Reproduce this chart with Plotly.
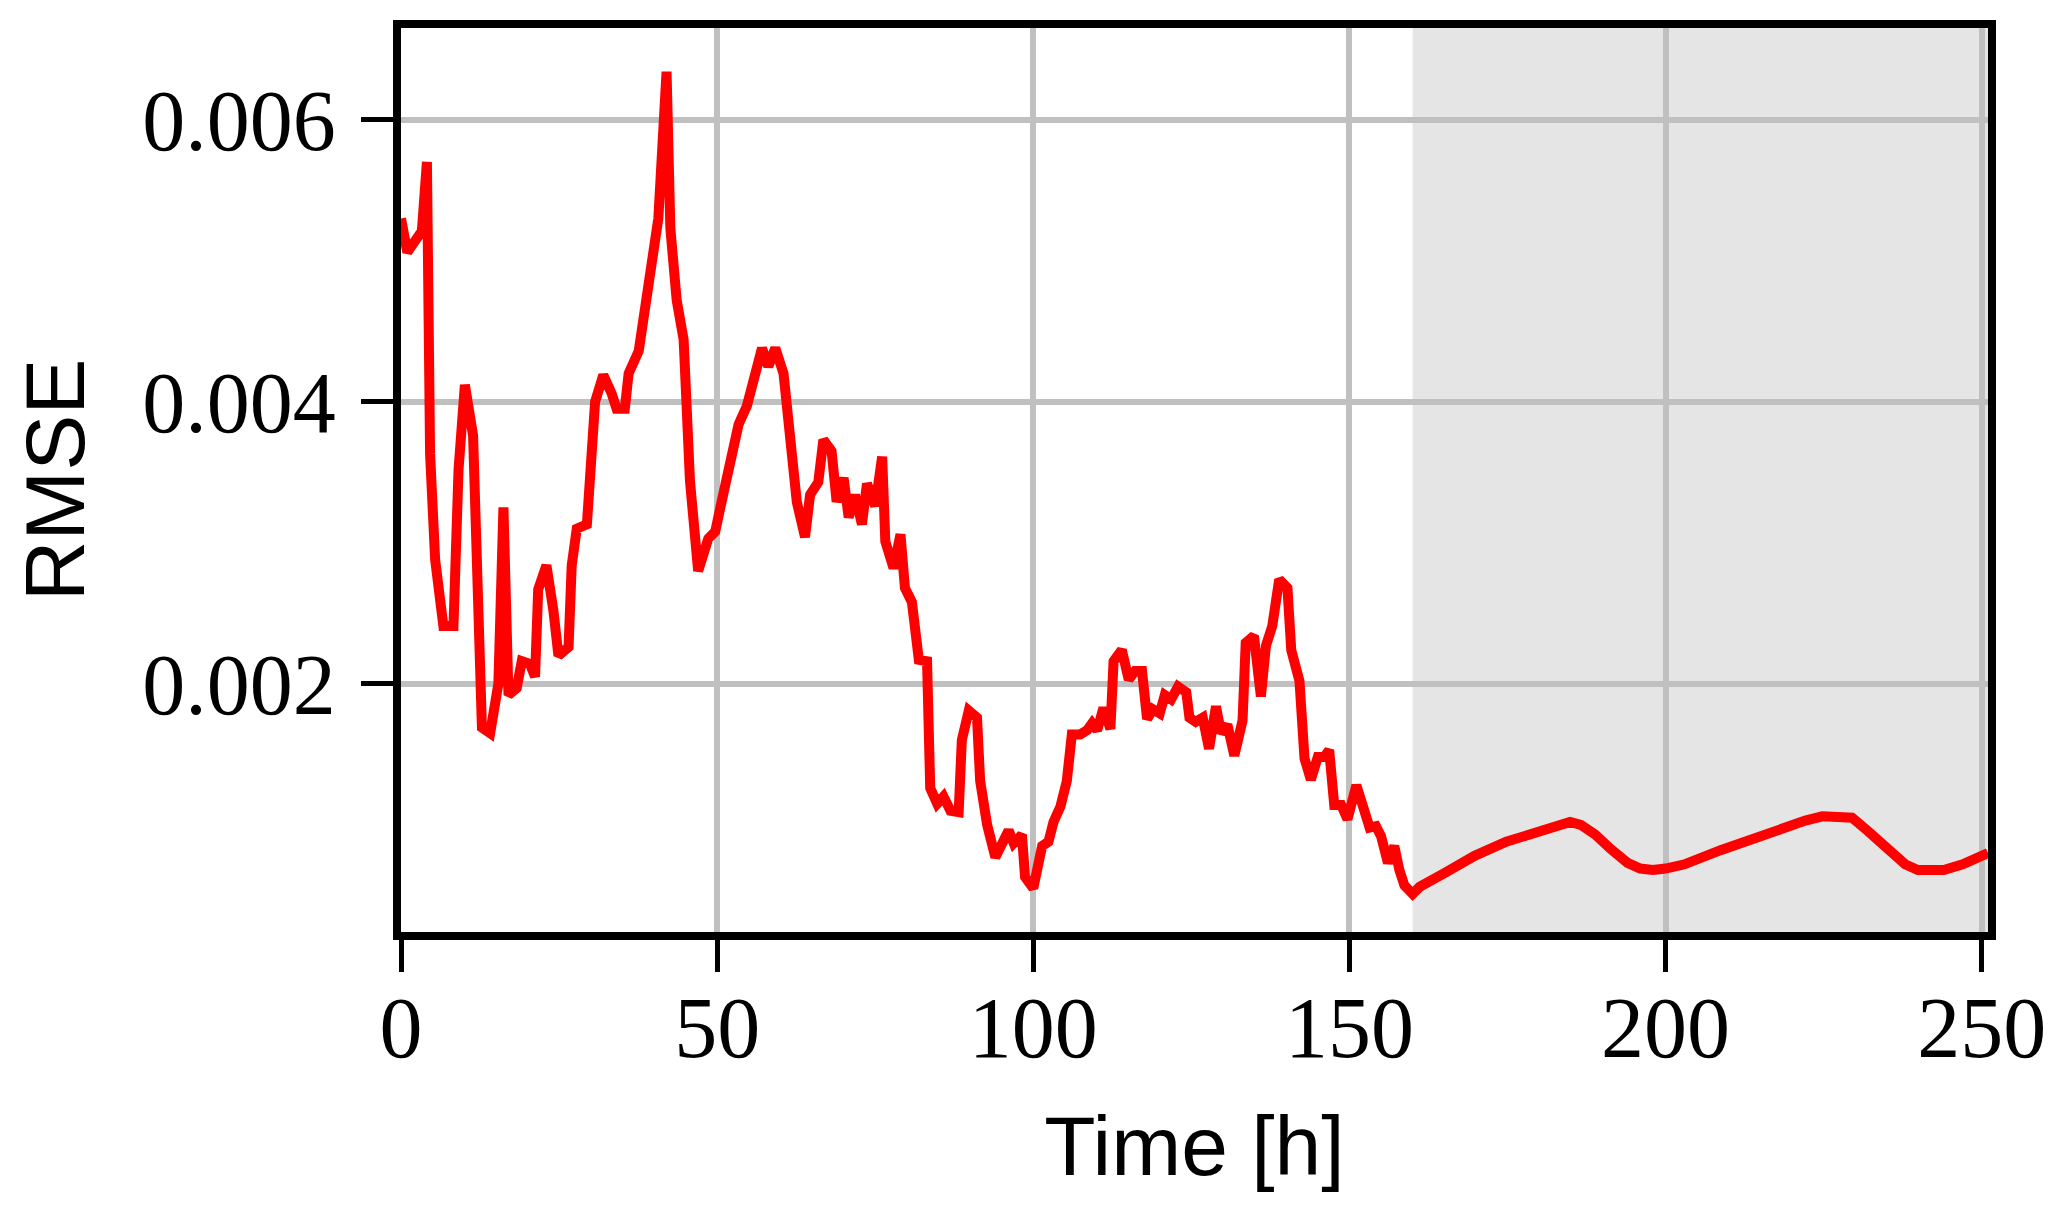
import plotly.graph_objects as go

# values
time_h = [
    0.0, 1.0, 3.3, 4.1, 4.6, 5.4, 6.7, 8.3, 9.1, 10.1, 11.4, 12.8, 14.1, 15.4, 16.2,
    17.0, 18.3, 19.1, 20.4, 21.2, 21.7, 23.0, 24.1, 24.9, 26.5, 27.0, 27.8, 29.4,
    30.7, 32.0, 33.3, 34.1, 35.4, 36.0, 37.6, 38.6, 39.7, 40.7, 42.0, 42.6, 43.6,
    44.7, 45.7, 47.0, 48.6, 49.7, 50.7, 51.8, 53.4, 54.7, 55.8, 57.1, 58.1, 59.2,
    60.5, 61.5, 62.6, 63.9, 64.7, 66.0, 66.8, 68.1, 68.9, 70.0, 70.8, 71.8, 72.9,
    73.7, 75.0, 76.1, 76.6, 77.9, 79.0, 79.7, 80.8, 81.9, 83.2, 83.7, 84.8, 85.8,
    86.9, 88.2, 88.7, 89.8, 91.1, 91.6, 92.7, 94.0, 95.0, 96.1, 96.9, 98.2, 98.7,
    100.0, 101.4, 102.4, 103.2, 104.3, 105.3, 106.1, 107.4, 108.5, 109.3, 110.1,
    111.1, 112.2, 112.7, 114.0, 115.1, 116.1, 117.2, 118.0, 118.9, 120.0, 120.8,
    121.8, 122.9, 124.2, 124.7, 125.7, 126.8, 127.8, 128.9, 129.7, 130.7, 131.8,
    133.1, 133.6, 134.9, 136.0, 136.8, 137.8, 138.9, 140.2, 140.8, 142.1, 142.9,
    143.9, 145.0, 146.0, 146.8, 147.6, 148.7, 149.7, 151.1, 152.4, 153.2, 154.2,
    155.0, 156.1, 157.1, 157.9, 158.7, 160.0,
    161.1, 165.1, 169.8, 174.8, 179.9, 182.9, 184.9, 186.6, 188.9, 191.3, 194.0,
    196.0, 198.0, 200.0, 203.0, 208.7, 215.8, 222.1, 224.8, 226.8, 229.5, 231.9,
    234.9, 237.9, 239.9, 242.3, 244.0, 247.0, 250.3, 251.0,
]
rmse = [
    0.00530, 0.00506, 0.00521, 0.00570, 0.00363, 0.00288, 0.00241, 0.00241, 0.00352,
    0.00412, 0.00376, 0.00169, 0.00165, 0.00200, 0.00325, 0.00192, 0.00197, 0.00216,
    0.00214, 0.00205, 0.00267, 0.00284, 0.00252, 0.00220, 0.00226, 0.00284, 0.00310,
    0.00313, 0.00400, 0.00419, 0.00406, 0.00395, 0.00395, 0.00420, 0.00436, 0.00468,
    0.00498, 0.00530, 0.00634, 0.00523, 0.00472, 0.00444, 0.00344, 0.00280, 0.00303,
    0.00308, 0.00329, 0.00350, 0.00384, 0.00397, 0.00414, 0.00438, 0.00425, 0.00438,
    0.00420, 0.00372, 0.00329, 0.00304, 0.00334, 0.00343, 0.00373, 0.00365, 0.00329,
    0.00346, 0.00318, 0.00334, 0.00313, 0.00342, 0.00326, 0.00361, 0.00301, 0.00282,
    0.00306, 0.00268, 0.00258, 0.00217, 0.00216, 0.00126, 0.00115, 0.00120, 0.00110,
    0.00109, 0.00160, 0.00181, 0.00176, 0.00131, 0.00100, 0.00077, 0.00088, 0.00096,
    0.00087, 0.00093, 0.00063, 0.00055, 0.00085, 0.00088, 0.00102, 0.00113, 0.00131,
    0.00164, 0.00164, 0.00167, 0.00172, 0.00167, 0.00183, 0.00168, 0.00216, 0.00224,
    0.00203, 0.00209, 0.00209, 0.00175, 0.00182, 0.00179, 0.00192, 0.00189, 0.00198,
    0.00194, 0.00176, 0.00173, 0.00176, 0.00154, 0.00184, 0.00165, 0.00171, 0.00149,
    0.00174, 0.00229, 0.00234, 0.00191, 0.00227, 0.00241, 0.00274, 0.00268, 0.00224,
    0.00202, 0.00147, 0.00132, 0.00148, 0.00148, 0.00153, 0.00114, 0.00114, 0.00104,
    0.00128, 0.00108, 0.00098, 0.00099, 0.00092, 0.00073, 0.00085, 0.00068, 0.00057,
    0.00051,
    0.00056, 0.00066, 0.00078, 0.00088, 0.00096, 0.00100, 0.00102, 0.00100, 0.00093,
    0.00083, 0.00073, 0.00069, 0.00068, 0.00069, 0.00072, 0.00082, 0.00094, 0.00103,
    0.00106, 0.00106, 0.00105, 0.00096, 0.00083, 0.00072, 0.00068, 0.00067, 0.00068,
    0.00072, 0.00078, 0.00080,
]
x_ticks = [0, 50, 100, 150, 200, 250]
y_ticks = [0.002, 0.004, 0.006]
forecast_start = 160

fig = go.Figure()
fig.add_trace(go.Scatter(x=time_h, y=rmse, mode="lines",
                         line=dict(color="#ff0000", width=10), showlegend=False))

# grey band for the forecast part
fig.add_shape(type="rect", xref="x", yref="y domain", x0=forecast_start, x1=251,
              y0=0, y1=1, fillcolor="#e5e5e5", line_width=0, layer="below")

serif = "Liberation Serif"
sans = "Liberation Sans"
# the page body has an 8px margin, so the figure is 8px smaller and shifted
fig.update_layout(
    width=2059, height=1211,
    margin=dict(l=393, r=79, t=15, b=287),
    plot_bgcolor="white", paper_bgcolor="white",
    xaxis=dict(range=[0, 251], tickvals=x_ticks, showgrid=True, gridcolor="#c0c0c0",
               gridwidth=6, zeroline=False, showline=True, linecolor="black", linewidth=8,
               mirror=True, ticks="outside", ticklen=32, tickwidth=5, tickcolor="black",
               tickfont=dict(family=serif, size=86, color="black"), ticklabelstandoff=-18,
               title=dict(text="Time [h]", font=dict(family=sans, size=84, color="black"),
                          standoff=44)),
    yaxis=dict(range=[0.00024, 0.00665], tickvals=y_ticks, tickformat=".3f", showgrid=True,
               gridcolor="#c0c0c0", gridwidth=6, zeroline=False, showline=True,
               linecolor="black", linewidth=8, mirror=True, ticks="outside", ticklen=32,
               tickwidth=5, tickcolor="black",
               tickfont=dict(family=serif, size=86, color="black"), ticklabelstandoff=8,
               title=dict(text="RMSE", font=dict(family=sans, size=84, color="black"),
                          standoff=54)),
)

fig.write_html("out.html")
